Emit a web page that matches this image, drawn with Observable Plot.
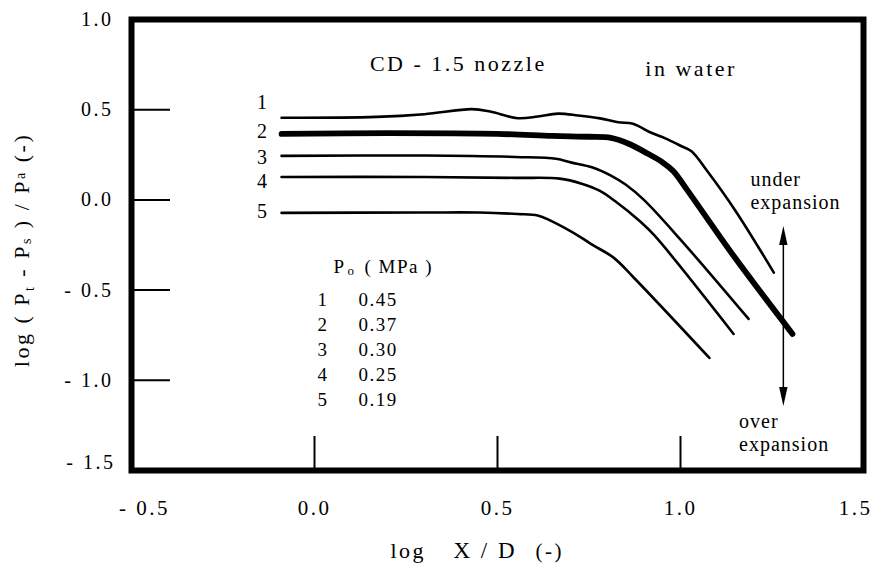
<!DOCTYPE html>
<html><head><meta charset="utf-8">
<script src="https://cdn.jsdelivr.net/npm/d3@7"></script>
<script src="https://cdn.jsdelivr.net/npm/@observablehq/plot@0.6"></script>
<style>body{margin:0;background:#fff} svg text, svg tspan {font-family: 'Liberation Serif', 'Times New Roman', serif !important;}</style>
</head><body><div id="chart"></div>
<script>
// ---- data ----
const curveIds = ["1", "2", "3", "4", "5"];
const pressures = ["0.45", "0.37", "0.30", "0.25", "0.19"];
const curve1 = [[-0.09,0.455],[0.17,0.46],[0.30,0.475],[0.43,0.503],[0.48,0.49],[0.555,0.453],[0.61,0.462],[0.665,0.478],[0.72,0.468],[0.78,0.452],[0.83,0.43],[0.87,0.422],[0.92,0.372],[0.96,0.34],[1.0,0.30],[1.03,0.27],[1.073,0.16],[1.15,-0.06],[1.255,-0.403]];
const curve2 = [[-0.09,0.366],[0.2,0.37],[0.5,0.366],[0.65,0.355],[0.75,0.35],[0.81,0.344],[0.86,0.31],[0.91,0.257],[0.95,0.21],[0.98,0.16],[1.02,0.05],[1.145,-0.31],[1.306,-0.743]];
const curve3 = [[-0.09,0.244],[0.3,0.246],[0.55,0.238],[0.66,0.228],[0.70,0.208],[0.76,0.18],[0.81,0.135],[0.85,0.085],[0.90,0.0],[1.0,-0.22],[1.186,-0.66]];
const curve4 = [[-0.09,0.127],[0.3,0.127],[0.55,0.122],[0.67,0.118],[0.73,0.09],[0.78,0.05],[0.82,-0.005],[0.89,-0.12],[0.93,-0.2],[1.145,-0.743]];
const curve5 = [[-0.09,-0.072],[0.3,-0.07],[0.45,-0.07],[0.555,-0.078],[0.61,-0.086],[0.645,-0.115],[0.73,-0.21],[0.755,-0.244],[0.817,-0.32],[0.872,-0.43],[1.079,-0.876]];
const xTicks = [-0.5, 0, 0.5, 1, 1.5];
const yTicks = [1, 0.5, 0, -0.5, -1, -1.5];
const xInnerTicks = [0, 0.5, 1];
const yInnerTicks = [0.5, 0, -0.5, -1];
const titleText = "CD - 1.5 nozzle";
const mediumText = "in water";
const underText = "under\nexpansion";
const overText = "over\nexpansion";
const legendHead = ["P", "o", "( MPa )"];
const xLabelParts = ["log", "X / D", "(-)"];
const yLabelText = "log ( Pt - Ps ) / Pa (-)";

// ---- layout ----
const W = 872, H = 574, mL = 131, mR = 9, mT = 19, mB = 104;
const xDom = [-0.5, 1.5], yDom = [-1.5, 1.0];
const pxX = (W - mL - mR) / (xDom[1] - xDom[0]);
const pxY = (H - mT - mB) / (yDom[1] - yDom[0]);
const curves = [curve1, curve2, curve3, curve4, curve5];
const rows = curves.flatMap((c, i) => c.map(([x, y]) => ({id: curveIds[i], x, y})));
const starts = curves.map((c, i) => ({id: curveIds[i], x: c[0][0], y: c[0][1]}));
const labelDy = [-15, -2, 2, 5, -1];
const fmt = d => (d < 0 ? "- " : "") + Math.abs(d).toFixed(1);
const serif = "Liberation Serif";

// annotation anchors (data units)
const arrowX = 1.281, arrowTop = -0.144, arrowBottom = -1.142;
const legX = 0.052, legY = -0.405, rowY0 = -0.588, rowStep = 0.139, idX = 0.008, valX = 0.12;

const ax = {tickSize: 0, tickFormat: fmt, label: null, fontFamily: serif};
const chart = Plot.plot({
  width: W, height: H,
  marginLeft: mL, marginRight: mR, marginTop: mT, marginBottom: mB,
  x: {domain: xDom, axis: null},
  y: {domain: yDom, axis: null},
  style: "font-family: 'Liberation Serif', serif; font-size: 20px; letter-spacing: 2.5px; background: white; color: black;",
  marks: [
    // inner ticks
    Plot.ruleY(yInnerTicks, {x1: xDom[0], x2: xDom[0] + 39 / pxX, strokeWidth: 2}),
    Plot.ruleX(xInnerTicks, {y1: yDom[0], y2: yDom[0] + 34 / pxY, strokeWidth: 2}),
    // axis labels
    Plot.axisY(yTicks.filter(d => d !== -1.5), {...ax, anchor: "left", tickPadding: 18, fontSize: 20}),
    Plot.axisY([-1.5], {...ax, anchor: "left", tickPadding: 16, fontSize: 20, dy: -8}),
    Plot.axisX(xInnerTicks, {...ax, anchor: "bottom", tickPadding: 30, fontSize: 21}),
    Plot.axisX([-0.5], {...ax, anchor: "bottom", tickPadding: 30, fontSize: 21, dx: 13}),
    Plot.axisX([1.5], {...ax, anchor: "bottom", tickPadding: 30, fontSize: 21, dx: -8}),
    // curves
    Plot.line(rows.filter(d => d.id !== "2"), {x: "x", y: "y", z: "id", curve: "catmull-rom", stroke: "black", strokeWidth: 2.6}),
    Plot.line(rows.filter(d => d.id === "2"), {x: "x", y: "y", curve: "catmull-rom", stroke: "black", strokeWidth: 5.8}),
    // curve labels
    ...starts.map((s, i) => Plot.text([s], {x: "x", y: "y", text: "id", textAnchor: "end", dx: -12, dy: labelDy[i], fontSize: 20, fontFamily: serif})),
    // titles
    Plot.text([titleText], {x: 0.393, y: 0.715, textAnchor: "middle", lineAnchor: "bottom", fontSize: 22, fontFamily: serif}),
    Plot.text([mediumText], {x: 0.904, y: 0.687, textAnchor: "start", lineAnchor: "bottom", fontSize: 22, fontFamily: serif}),
    Plot.text([underText], {x: 1.191, y: -0.05, textAnchor: "start", lineAnchor: "bottom", lineHeight: 1.15, fontSize: 20, fontFamily: serif}),
    Plot.text([overText], {x: 1.16, y: -1.391, textAnchor: "start", lineAnchor: "bottom", lineHeight: 1.15, fontSize: 20, fontFamily: serif}),
    // arrow
    Plot.ruleX([arrowX], {y1: arrowBottom + 10 / pxY, y2: arrowTop - 10 / pxY, strokeWidth: 1.5}),
    Plot.vector([arrowX], {x: d => d, y: arrowTop, length: 19, r: 4.2, shape: "spike", anchor: "end", rotate: 0, fill: "black", stroke: "none"}),
    Plot.vector([arrowX], {x: d => d, y: arrowBottom, length: 19, r: 4.2, shape: "spike", anchor: "end", rotate: 180, fill: "black", stroke: "none"}),
    // legend table
    Plot.text([legendHead[0]], {x: legX, y: legY, textAnchor: "start", lineAnchor: "bottom", fontSize: 19, fontFamily: serif}),
    Plot.text([legendHead[1]], {x: legX, y: legY, textAnchor: "start", lineAnchor: "bottom", fontSize: 13, dx: 14, dy: 2, fontFamily: serif}),
    Plot.text([legendHead[2]], {x: legX, y: legY, textAnchor: "start", lineAnchor: "bottom", fontSize: 19, dx: 31, fontFamily: serif}),
    Plot.text(curveIds, {x: idX, y: (d, i) => rowY0 - i * rowStep, text: d => d, textAnchor: "start", lineAnchor: "bottom", fontSize: 19, fontFamily: serif}),
    Plot.text(pressures, {x: valX, y: (d, i) => rowY0 - i * rowStep, text: d => d, textAnchor: "start", lineAnchor: "bottom", fontSize: 19, fontFamily: serif}),
    // axis titles
    Plot.text([xLabelParts[0]], {frameAnchor: "bottom", textAnchor: "start", lineAnchor: "bottom", dx: -107, dy: 87, fontSize: 22, fontFamily: serif}),
    Plot.text([xLabelParts[1]], {frameAnchor: "bottom", textAnchor: "start", lineAnchor: "bottom", dx: -44, dy: 87, fontSize: 23, fontFamily: serif}),
    Plot.text([xLabelParts[2]], {frameAnchor: "bottom", textAnchor: "start", lineAnchor: "bottom", dx: 38, dy: 87, fontSize: 21, fontFamily: serif}),
    Plot.text([yLabelText], {frameAnchor: "left", textAnchor: "middle", rotate: -90, dx: -110, dy: 5, fontSize: 22, fontFamily: serif}),
    Plot.frame({stroke: "black", strokeWidth: 6})
  ]
});
document.getElementById("chart").appendChild(chart);
const sel = d3.select(chart);
sel.selectAll("text").style("font-family", "'Liberation Serif', serif");
// tighter spacing for the smaller annotations / legend
sel.selectAll("text").filter(function() {
  const t = this.textContent;
  return t.startsWith("under") || t.startsWith("over");
}).style("letter-spacing", "1px");
sel.selectAll("text").filter(function() {
  const t = this.textContent;
  return pressures.includes(t) || t === legendHead[2];
}).style("letter-spacing", "1.5px");

// subscripts in the y title
const yl = sel.selectAll("text").filter(function() { return this.textContent === yLabelText; });
if (!yl.empty()) {
  yl.text(null);
  const parts = [["log ( P", 0, 22], ["t", 5, 14], [" - P", -5, 22], ["s", 2, 14], [" ) / P", -2, 22], ["a", -4, 14], [" (-)", 4, 22]];
  parts.forEach(([t, dy, fs]) => yl.append("tspan").attr("dy", dy).attr("font-size", fs).text(t));
}
</script></body></html>
